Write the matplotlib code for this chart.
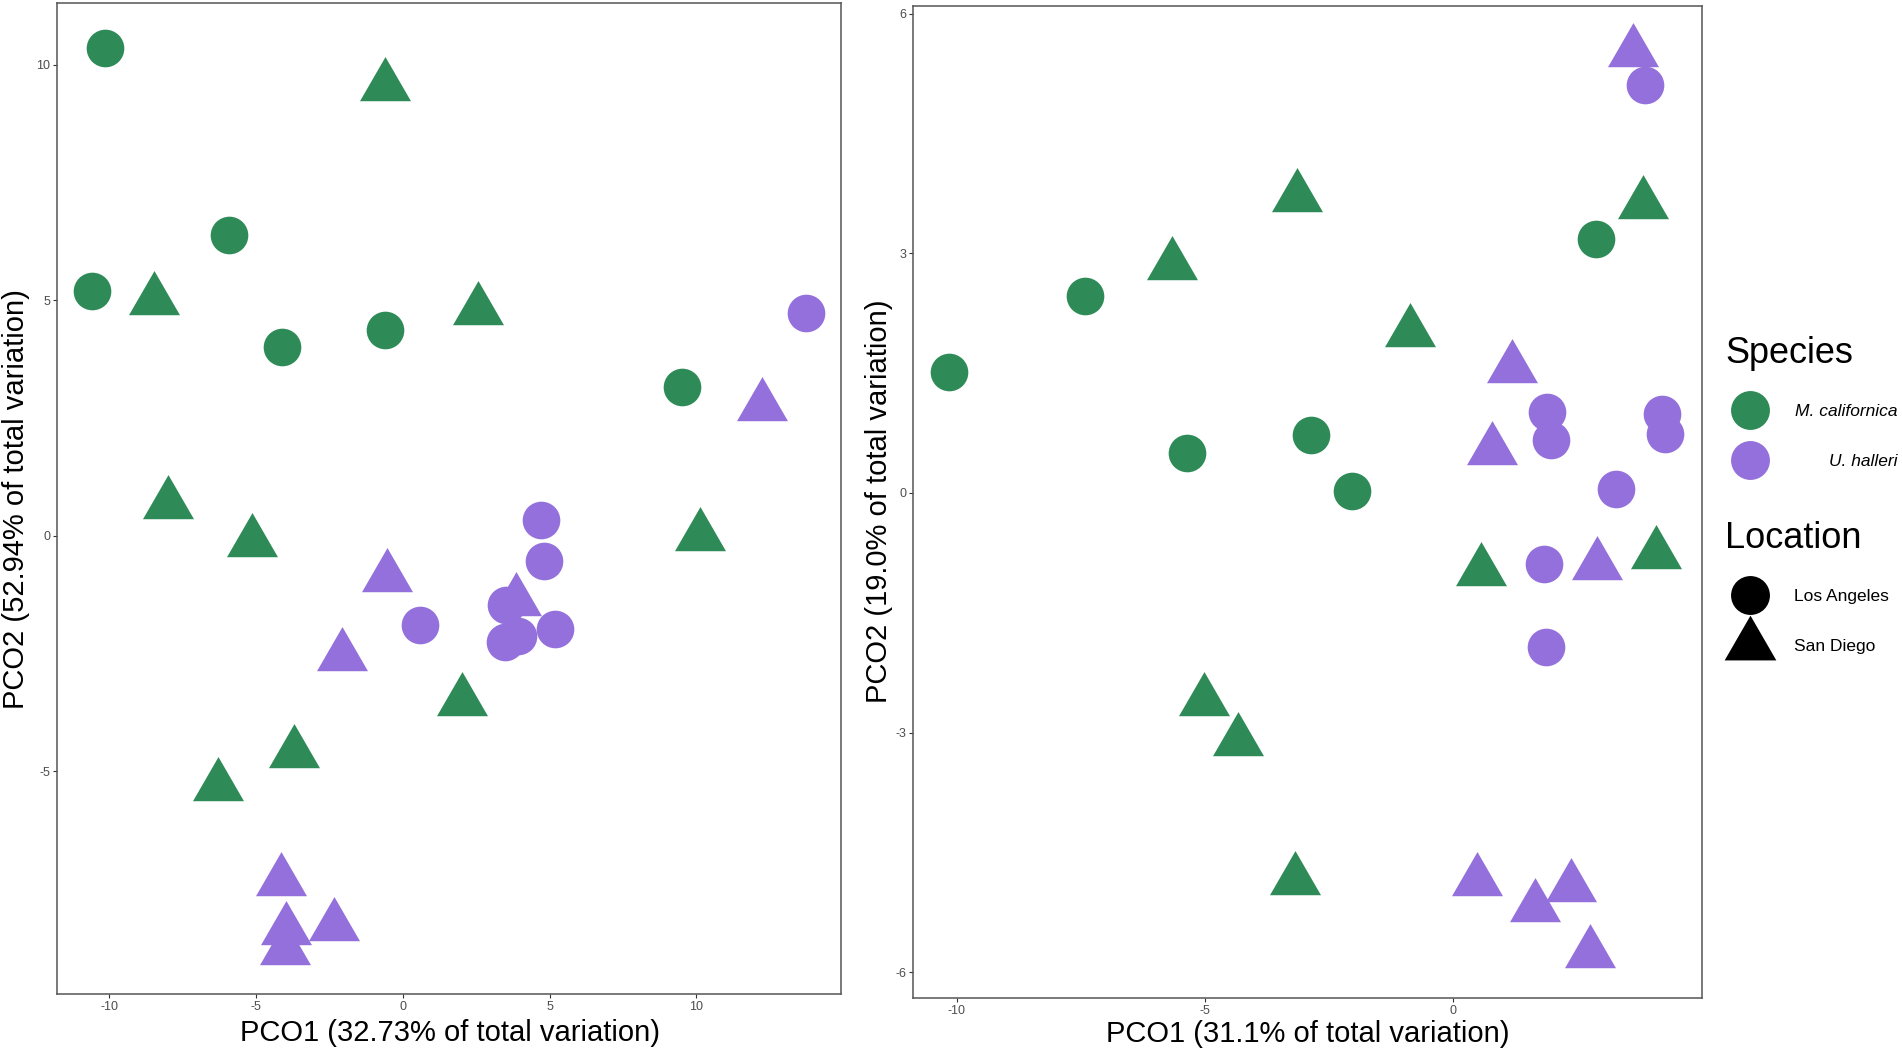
import matplotlib
matplotlib.use("Agg")
import matplotlib.pyplot as plt

plt.rcParams['font.family'] = ['Liberation Sans', 'DejaVu Sans']

# ---------------- data ----------------
species_names = ["M. californica", "U. halleri"]
location_names = ["Los Angeles", "San Diego"]
species_colors = ["#2E8B57", "#9370DB"]

# Left panel (PCO1 32.73%, PCO2 52.94%)
L_mc_la_x = [-10.14, -5.90, -10.58, -4.11, -0.61, 9.52]
L_mc_la_y = [10.36, 6.39, 5.19, 4.00, 4.36, 3.15]
L_mc_sd_x = [-0.61, -8.47, 2.57, -8.01, -5.13, 2.02, -3.70, -6.29, 10.13]
L_mc_sd_y = [9.54, 5.00, 4.78, 0.66, -0.14, -3.51, -4.62, -5.31, -0.02]
L_uh_la_x = [4.71, 4.80, 0.59, 3.53, 3.92, 3.48, 5.20, 13.74]
L_uh_la_y = [0.34, -0.53, -1.90, -1.48, -2.13, -2.26, -1.99, 4.73]
L_uh_sd_x = [-0.55, 3.85, -2.08, 12.25, -4.16, -3.97, -4.02, -2.34]
L_uh_sd_y = [-0.87, -1.40, -2.56, 2.75, -7.34, -8.37, -8.79, -8.28]

# Right panel (PCO1 31.1%, PCO2 19.0%)
R_mc_la_x = [-10.17, -7.41, -5.37, -2.86, -2.03, 2.88]
R_mc_la_y = [1.52, 2.47, 0.50, 0.73, 0.03, 3.18]
R_mc_sd_x = [-5.66, -3.15, -0.86, -5.02, -4.34, -3.19, 3.84, 0.56, 4.10]
R_mc_sd_y = [2.85, 3.71, 2.01, -2.61, -3.11, -4.84, 3.62, -0.98, -0.77]
R_uh_la_x = [3.88, 1.91, 1.99, 4.21, 4.28, 3.29, 1.83, 1.88]
R_uh_la_y = [5.11, 1.01, 0.66, 0.99, 0.74, 0.05, -0.89, -1.93]
R_uh_sd_x = [3.63, 1.20, 0.79, 2.90, 0.48, 1.65, 2.39, 2.76]
R_uh_sd_y = [5.52, 1.56, 0.54, -0.90, -4.86, -5.19, -4.93, -5.76]

L_xticks = [-10, -5, 0, 5, 10]
L_yticks = [-5, 0, 5, 10]
R_xticks = [-10, -5, 0]
R_yticks = [-6, -3, 0, 3, 6]

L_xlabel = "PCO1 (32.73% of total variation)"
L_ylabel = "PCO2 (52.94% of total variation)"
R_xlabel = "PCO1 (31.1% of total variation)"
R_ylabel = "PCO2 (19.0% of total variation)"

# ---------------- style ----------------
W, H = 1902, 1052
DPI = 100
TRI = [(0, 1), (-0.8660254, -0.5), (0.8660254, -0.5), (0, 1)]  # centroid-centred triangle
CIRC_MS = 27.1
TRI_MS = 42.4
BORDER = "#555555"

fig = plt.figure(figsize=(W / DPI, H / DPI), dpi=DPI)
fig.patch.set_facecolor("white")


def px_rect(x0, y0, x1, y1):
    return [x0 / W, 1 - y1 / H, (x1 - x0) / W, (y1 - y0) / H]


def style_axes(ax, xticks, yticks, xlim, ylim):
    ax.set_xlim(*xlim)
    ax.set_ylim(*ylim)
    ax.set_xticks(xticks)
    ax.set_yticks(yticks)
    ax.set_xticklabels([str(t) for t in xticks])
    ax.set_yticklabels([str(t) for t in yticks])
    ax.tick_params(direction="out", length=2.9, width=0.8, color="#333333",
                   labelcolor="#4D4D4D", labelsize=9, pad=2)
    for s in ax.spines.values():
        s.set_color(BORDER)
        s.set_linewidth(1.1)
    ax.set_facecolor("white")


def draw_points(ax, groups):
    for xs, ys, col, shape in groups:
        if shape == "o":
            ax.plot(xs, ys, linestyle="none", marker="o", ms=CIRC_MS,
                    mfc=col, mec="none", mew=0)
        else:
            ax.plot(xs, ys, linestyle="none", marker=TRI, ms=TRI_MS,
                    mfc=col, mec="none", mew=0)


axL = fig.add_axes(px_rect(57.1, 3.3, 841.4, 994.3))
style_axes(axL, L_xticks, L_yticks, (-11.77, 14.94), (-9.74, 11.30))
draw_points(axL, [
    (L_mc_la_x, L_mc_la_y, species_colors[0], "o"),
    (L_mc_sd_x, L_mc_sd_y, species_colors[0], "^"),
    (L_uh_la_x, L_uh_la_y, species_colors[1], "o"),
    (L_uh_sd_x, L_uh_sd_y, species_colors[1], "^"),
])

axR = fig.add_axes(px_rect(913.3, 5.8, 1701.7, 997.7))
style_axes(axR, R_xticks, R_yticks, (-10.88, 5.02), (-6.32, 6.10))
draw_points(axR, [
    (R_mc_la_x, R_mc_la_y, species_colors[0], "o"),
    (R_mc_sd_x, R_mc_sd_y, species_colors[0], "^"),
    (R_uh_la_x, R_uh_la_y, species_colors[1], "o"),
    (R_uh_sd_x, R_uh_sd_y, species_colors[1], "^"),
])

LABEL_SIZE = 21
# x labels
fig.text(449.5 / W, 1 - 1041 / H, L_xlabel, ha="center", va="baseline",
         fontsize=LABEL_SIZE, color="black")
fig.text(1307.5 / W, 1 - 1042 / H, R_xlabel, ha="center", va="baseline",
         fontsize=LABEL_SIZE, color="black")
# y labels
fig.text(24.5 / W, 1 - 498.8 / H, L_ylabel, rotation=90, rotation_mode="anchor",
         ha="center", va="baseline", fontsize=LABEL_SIZE, color="black")
fig.text(887 / W, 1 - 501.7 / H, R_ylabel, rotation=90, rotation_mode="anchor",
         ha="center", va="baseline", fontsize=LABEL_SIZE, color="black")

# ---------------- legend (manual, in pixel space) ----------------
lax = fig.add_axes([0, 0, 1, 1], zorder=5)
lax.set_xlim(0, W)
lax.set_ylim(H, 0)
lax.axis("off")
lax.patch.set_alpha(0)

KEY_X = 1750
TITLE_SIZE = 26
lax.text(1725, 363.3, "Species", fontsize=TITLE_SIZE, ha="left", va="baseline")
species_key_y = [410, 460]
species_text_x = [1795, 1829]
for name, col, ky, tx in zip(species_names, species_colors, species_key_y, species_text_x):
    lax.plot([KEY_X], [ky], linestyle="none", marker="o", ms=28, mfc=col, mec="none", mew=0)
    lax.text(tx, ky + 1, name, fontsize=12.5, style="italic", ha="left", va="center")

lax.text(1725, 548.3, "Location", fontsize=TITLE_SIZE, ha="left", va="baseline")
loc_key_y = [595.3, 645]
loc_markers = ["o", TRI]
loc_ms = [28, 43]
for name, ky, mk, ms in zip(location_names, loc_key_y, loc_markers, loc_ms):
    lax.plot([KEY_X], [ky], linestyle="none", marker=mk, ms=ms, mfc="black", mec="none", mew=0)
    lax.text(1794.3, ky + 1.5, name, fontsize=12.5, ha="left", va="center")

fig.savefig("out.png", dpi=DPI, facecolor="white")
